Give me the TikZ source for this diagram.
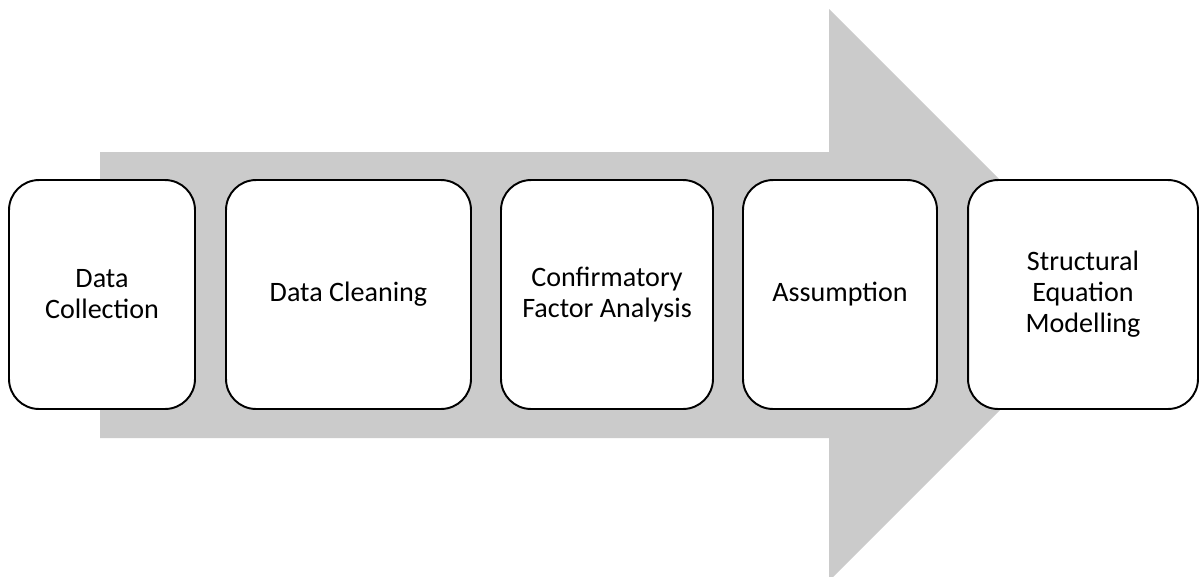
\documentclass[tikz,border=0pt]{standalone}
\usepackage{fontspec}
\setmainfont{Carlito}
\usetikzlibrary{positioning}

\begin{document}
\begin{tikzpicture}[x=0.02cm, y=-0.02cm,
        stepbox/.style={draw, line width=1.1pt, fill=white, rounded corners=0.6cm,
            align=center, font=\fontsize{16}{17.6}\selectfont, minimum height=4.58cm},
        bigarrow/.style={fill=arrowgray}]
        \definecolor{arrowgray}{HTML}{CBCBCB}
        \useasboundingbox (0,0) rectangle (1200,576);

        % grosse Pfeil im Hintergrund
        \fill[bigarrow] (100,152) -- (829,152) -- (829,9) -- (1115,295)
            -- (829,581) -- (829,438) -- (100,438) -- cycle;

        \node[stepbox, minimum width=3.72cm] (dc) at (102,294.5) {Data\\Collection};
        \node[stepbox, minimum width=4.9cm] (clean) at (348.5,294.5) {Data Cleaning};
        \node[stepbox, minimum width=4.24cm] (cfa) at (607,294.5) {Confirmatory\\Factor Analysis};
        \node[stepbox, minimum width=3.88cm] (assum) at (840,294.5) {Assumption};
        \node[stepbox, minimum width=4.6cm] (sem) at (1083,294.5) {Structural\\Equation\\Modelling};
    \end{tikzpicture}
\end{document}
